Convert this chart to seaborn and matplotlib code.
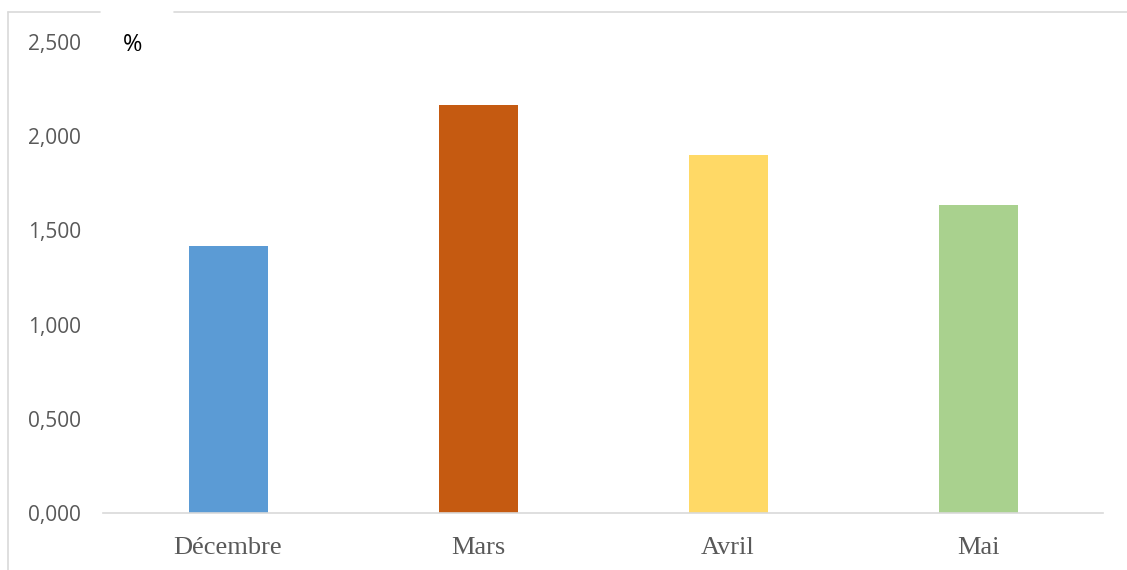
import matplotlib.pyplot as plt
import matplotlib.lines as mlines
import pandas as pd
import seaborn as sns

# Values
mois = ["Décembre", "Mars", "Avril", "Mai"]
valeurs = [1.417, 2.166, 1.900, 1.635]
couleurs = ["#5B9BD5", "#C55A11", "#FFD966", "#A9D18E"]

df = pd.DataFrame({"mois": mois, "valeur": valeurs})

sns.set_style("white")

fig = plt.figure(figsize=(11.27, 5.7), dpi=100)
ax = fig.add_axes([103 / 1127, 57 / 570, 1000 / 1127, 471 / 570])

sns.barplot(
    data=df,
    x="mois",
    y="valeur",
    hue="mois",
    palette=couleurs,
    width=0.316,
    legend=False,
    saturation=1,
    linewidth=0,
    ax=ax,
)

ax.set_ylim(0, 2.5)
ax.set_xlim(-0.5, 3.5)
ax.set_yticks([0, 0.5, 1.0, 1.5, 2.0, 2.5])
ax.set_yticklabels([f"{v:.3f}".replace(".", ",") for v in ax.get_yticks()],
                   fontsize=15, color="#595959", family="Open Sans")
ax.set_xticks(range(len(mois)))
ax.set_xticklabels(mois, fontsize=19, color="#595959", family="Liberation Serif")
ax.tick_params(axis="y", length=0, pad=16)
ax.tick_params(axis="x", length=0, pad=17)
ax.set_xlabel("")
ax.set_ylabel("")

for side in ["top", "right", "left"]:
    ax.spines[side].set_visible(False)
ax.spines["bottom"].set_color("#D9D9D9")
ax.spines["bottom"].set_linewidth(1.2)

fig.text(133 / 1127, 1 - 45 / 570, "%", fontsize=17, color="black",
         family="Open Sans", ha="center", va="center")

# chart border (partly cropped)
bord = "#D9D9D9"
y_top = 1 - 12 / 570
x_left = 8 / 1127
fig.add_artist(mlines.Line2D([x_left, x_left], [0, y_top], color=bord, lw=1.2))
fig.add_artist(mlines.Line2D([x_left, 100 / 1127], [y_top, y_top], color=bord, lw=1.2))
fig.add_artist(mlines.Line2D([174 / 1127, 1], [y_top, y_top], color=bord, lw=1.2))

fig.savefig("out.png", dpi=100)
